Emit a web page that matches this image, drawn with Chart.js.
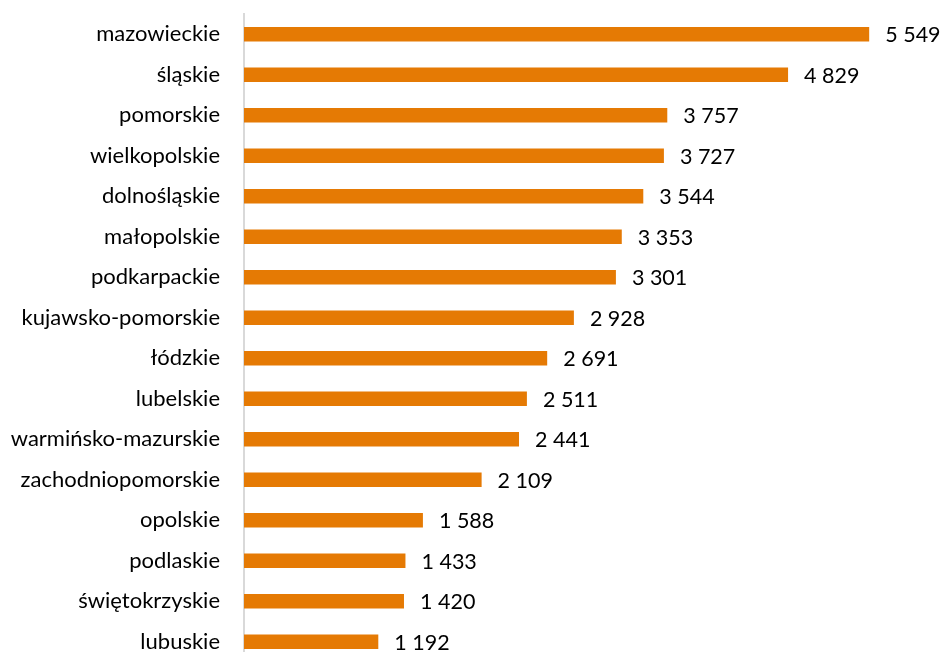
<!DOCTYPE html>
<html>
<head>
<meta charset="utf-8">
<script src="https://cdn.jsdelivr.net/npm/chart.js@4"></script>
<style>
html,body{margin:0;padding:0;background:#fff;overflow:hidden;}
#wrap{width:941px;height:662px;position:relative;}
</style>
</head>
<body>
<div id="wrap"><canvas id="c"></canvas></div>
<script>
const categories = ["mazowieckie","śląskie","pomorskie","wielkopolskie","dolnośląskie","małopolskie","podkarpackie","kujawsko-pomorskie","łódzkie","lubelskie","warmińsko-mazurskie","zachodniopomorskie","opolskie","podlaskie","świętokrzyskie","lubuskie"];
const values = [5549,4829,3757,3727,3544,3353,3301,2928,2691,2511,2441,2109,1588,1433,1420,1192];

function fmt(v){ return String(v).replace(/\B(?=(\d{3})+(?!\d))/g, " "); }

const FONT = "Lato, 'Open Sans', sans-serif";
const FSIZE = 22;

const labelPlugin = {
  id: 'valueLabels',
  afterDatasetsDraw(chart){
    const ctx = chart.ctx;
    const meta = chart.getDatasetMeta(0);
    ctx.save();
    ctx.font = "21.5px " + FONT;
    ctx.fillStyle = "#000";
    ctx.textAlign = "left";
    ctx.textBaseline = "middle";
    meta.data.forEach((bar, i) => {
      ctx.fillText(fmt(values[i]), bar.x + 16, bar.y + 1);
    });
    ctx.restore();
  }
};

new Chart(document.getElementById('c'), {
  type: 'bar',
  data: {
    labels: categories,
    datasets: [{
      data: values,
      backgroundColor: '#E57A04',
      borderWidth: 0,
      barPercentage: 0.355,
      categoryPercentage: 1.0
    }]
  },
  options: {
    indexAxis: 'y',
    responsive: true,
    maintainAspectRatio: false,
    animation: false,
    layout: { padding: { top: 14, right: 21, bottom: 0, left: 0 } },
    plugins: { legend: { display: false }, tooltip: { enabled: false } },
    scales: {
      x: {
        display: false,
        min: 0,
        max: 6000
      },
      y: {
        afterFit(scale){ scale.width = 244; scale.paddingTop = 0; scale.paddingBottom = 0; },
        grid: { display: false, drawTicks: false },
        border: { display: true, color: '#d9d9d9', width: 2 },
        ticks: {
          color: '#000',
          padding: 24,
          font: { family: FONT, size: FSIZE }
        }
      }
    }
  },
  plugins: [labelPlugin]
});
</script>
</body>
</html>
